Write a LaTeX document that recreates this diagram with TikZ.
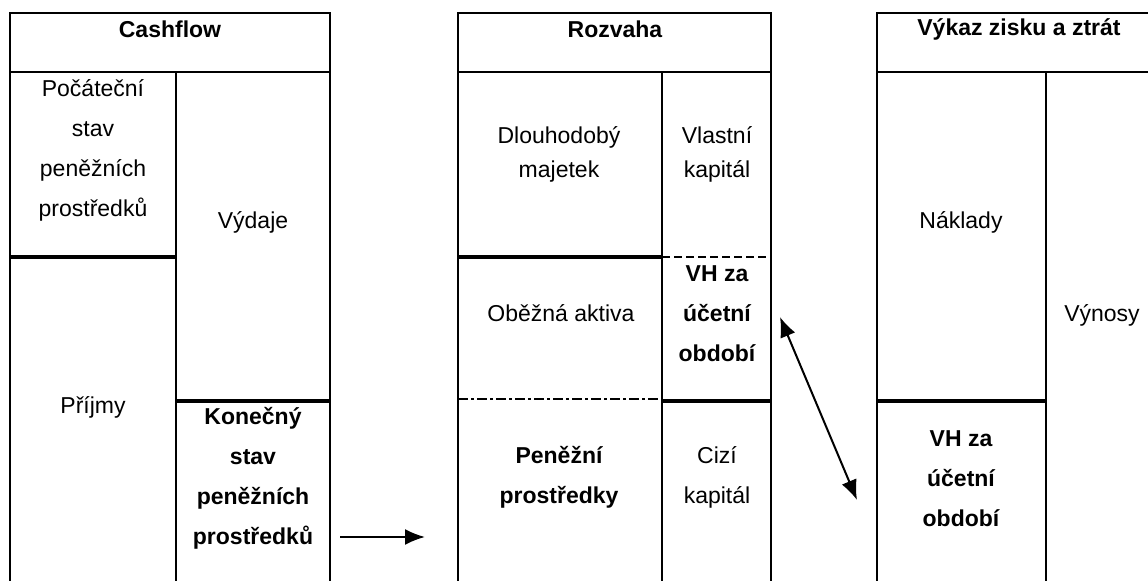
\documentclass[tikz,border=0pt]{standalone}
\usepackage{fontspec}
\setmainfont{Liberation Sans}
\usetikzlibrary{arrows.meta}
\begin{document}
\begin{tikzpicture}[
  x=0.5pt, y=-0.5pt, line width=1pt,
  txt/.style = {align=center, inner sep=0pt, font=\fontsize{11.5}{20}\selectfont},
  bold/.style = {txt, font=\fontsize{11.5}{20}\selectfont\bfseries},
  split/.style = {line width=1.75pt},
  dotdash/.style = {dash pattern=on 5pt off 1.5pt on 1.5pt off 1.5pt},
  shortdash/.style = {dash pattern=on 4pt off 2pt},
  arr/.style = {-{Latex[length=10pt,width=8pt]}},
  arrs/.style = {{Latex[length=10pt,width=8pt]}-{Latex[length=10pt,width=8pt]}}
  ]
  \useasboundingbox (0,0) rectangle (1148,581);
  \draw (10,581) -- (10,13) -- (330,13) -- (330,581);
  \draw (10,72) -- (330,72);
  \draw (176,72) -- (176,581);
  \draw[split] (10,257) -- (176,257);
  \draw[split] (176,401) -- (330,401);
  \draw (458,581) -- (458,13) -- (771,13) -- (771,581);
  \draw (458,72) -- (771,72);
  \draw (662,72) -- (662,581);
  \draw[split] (458,257) -- (662,257);
  \draw[shortdash] (662,257) -- (771,257);
  \draw[dotdash] (458,399) -- (662,399);
  \draw[split] (662,401) -- (771,401);
  \draw (877,581) -- (877,13) -- (1148,13);
  \draw (877,72) -- (1148,72);
  \draw (1046,72) -- (1046,581);
  \draw[split] (877,401) -- (1046,401);
  \node[bold] (cf) at (170,29) {Cashflow};
  \node[txt] (pocstav) at (93,150) {Počáteční\\stav\\peněžních\\prostředků};
  \node[txt] (vydaje) at (253,222) {Výdaje};
  \node[txt] (prijmy) at (93,407) {Příjmy};
  \node[bold] (konstav) at (253,478) {Konečný\\stav\\peněžních\\prostředků};
  \node[bold] (rz) at (615,29) {Rozvaha};
  \node[txt] (dm) at (559,154) {Dlouhodobý\\[-3pt]majetek};
  \node[txt] (vk) at (717,154) {Vlastní\\[-3pt]kapitál};
  \node[bold] (rzvh) at (717,314) {VH za\\účetní\\období};
  \node[txt] (oa) at (561,313) {Oběžná aktiva};
  \node[bold] (pp) at (559,477) {Peněžní\\prostředky};
  \node[txt] (ck) at (717,477) {Cizí\\kapitál};
  \node[bold] (vzz) at (1019,29) {Výkaz zisku a ztrát};
  \node[txt] (naklady) at (961,222) {Náklady};
  \node[txt] (vynosy) at (1102,315) {Výnosy};
  \node[bold] (vzzvh) at (961,479) {VH za\\účetní\\období};
  \coordinate (cfout) at (340,537);
  \coordinate (rzin) at (425,537);
  \coordinate (rzvhend) at (780,317);
  \coordinate (vzzvhend) at (857,500);
  \draw[arr] (cfout) -- (rzin);
  \draw[arrs] (rzvhend) -- (vzzvhend);
\end{tikzpicture}
\end{document}
